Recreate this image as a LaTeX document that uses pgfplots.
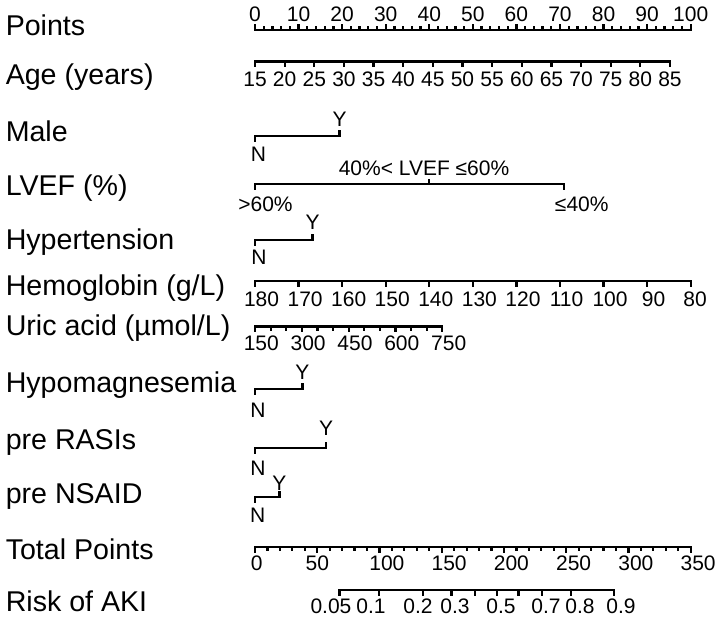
\documentclass[border=0pt]{standalone}
\usepackage{pgfplots}
\pgfplotsset{compat=1.18}
\usepackage{fontspec}
\setmainfont{Liberation Sans}
\newcommand\lab{\fontsize{14.3}{16}\selectfont}
\newcommand\tk{\fontsize{10.5}{12}\selectfont}
\tikzset{
  sc/.style={line width=1.1pt, line cap=rect, black},
  tl/.style={font=\tk, anchor=base, inner sep=0pt},
  ll/.style={font=\lab, anchor=base west, inner sep=0pt}
}
\begin{document}
\begin{tikzpicture}
\begin{axis}[hide axis, scale only axis, width=360pt, height=311.5pt,
  xmin=-58.53, xmax=106.73, ymin=0, ymax=623, y dir=reverse, clip=false]
\path (axis cs:-58.53,0) rectangle (axis cs:106.73,623);
% left labels
\node[ll] at (axis cs:-57.3,35.5) {Points};
\node[ll] at (axis cs:-57.3,84) {Age (years)};
\node[ll] at (axis cs:-57.3,141) {Male};
\node[ll] at (axis cs:-57.3,195) {LVEF (\%)};
\node[ll] at (axis cs:-57.3,249.5) {Hypertension};
\node[ll] at (axis cs:-57.3,295) {Hemoglobin (g/L)};
\node[ll] at (axis cs:-57.3,335) {Uric acid (µmol/L)};
\node[ll] at (axis cs:-57.3,392.5) {Hypomagnesemia};
\node[ll] at (axis cs:-57.3,449.5) {pre RASIs};
\node[ll] at (axis cs:-57.3,503.5) {pre NSAID};
\node[ll] at (axis cs:-57.3,559) {Total Points};
\node[ll] at (axis cs:-57.3,611) {Risk of AKI};
% Points
\addplot[sc] coordinates {(0,30) (100,30)};
\pgfplotsinvokeforeach{0,10,...,100}{\draw[sc] (axis cs:#1,30) -- (axis cs:#1,25.3); \node[tl] at (axis cs:#1,21) {#1};}
\pgfplotsinvokeforeach{2,4,6,8,12,14,16,18,22,24,26,28,32,34,36,38,42,44,46,48,52,54,56,58,62,64,66,68,72,74,76,78,82,84,86,88,92,94,96,98}{\draw[sc] (axis cs:#1,30) -- (axis cs:#1,27.4);}
% Age
\addplot[sc] coordinates {(0,61.5) (95.25,61.5)};
\pgfplotsinvokeforeach{15,20,...,85}{\draw[sc] (axis cs:{(#1-15)*1.36071},61.5) -- (axis cs:{(#1-15)*1.36071},66.2); \node[tl] at (axis cs:{(#1-15)*1.36071},86.5) {#1};}
% Male
\addplot[sc] coordinates {(0,140.5) (0,135.7) (19.4,135.7) (19.4,131)};
\node[tl] at (axis cs:0.8,161) {N};
\node[tl] at (axis cs:19.4,126.5) {Y};
% LVEF
\addplot[sc] coordinates {(0,189) (0,184.3) (70.9,184.3) (70.9,189)};
\draw[sc] (axis cs:39.9,184.3) -- (axis cs:39.9,179.6);
\node[tl] at (axis cs:2.4,211.5) {>60\%};
\node[tl] at (axis cs:38.8,175.8) {40\%< LVEF ≤60\%};
\node[tl] at (axis cs:75.0,211.5) {≤40\%};
% Hypertension
\addplot[sc] coordinates {(0,244.7) (0,240) (13.2,240) (13.2,235.3)};
\node[tl] at (axis cs:0.9,264) {N};
\node[tl] at (axis cs:13.2,229) {Y};
% Hemoglobin
\addplot[sc] coordinates {(0,281) (100,281)};
\pgfplotsinvokeforeach{90,100,...,180}{\draw[sc] (axis cs:{180-#1},281) -- (axis cs:{180-#1},285.7); \node[tl] at (axis cs:{181.5-#1},306.2) {#1};}
\draw[sc] (axis cs:100,281) -- (axis cs:100,285.7); \node[tl] at (axis cs:101,306.2) {80};
% Uric acid
\addplot[sc] coordinates {(0,326.5) (43,326.5)};
\pgfplotsinvokeforeach{150,300,450,600,750}{\draw[sc] (axis cs:{(#1-150)*0.071667},326.5) -- (axis cs:{(#1-150)*0.071667},331.2); \node[tl] at (axis cs:{(#1-150)*0.071667+1.45},350.5) {#1};}
\pgfplotsinvokeforeach{200,250,350,400,500,550,650,700}{\draw[sc] (axis cs:{(#1-150)*0.071667},326.5) -- (axis cs:{(#1-150)*0.071667},329.6);}
% Hypomagnesemia
\addplot[sc] coordinates {(0,393.7) (0,389) (10.9,389) (10.9,384.3)};
\node[tl] at (axis cs:0.7,417.5) {N};
\node[tl] at (axis cs:10.9,379.3) {Y};
% pre RASIs
\addplot[sc] coordinates {(0,452.7) (0,448) (16.3,448) (16.3,443.3)};
\node[tl] at (axis cs:0.7,475.5) {N};
\node[tl] at (axis cs:16.3,435.3) {Y};
% pre NSAID
\addplot[sc] coordinates {(0,501.7) (0,497) (5.6,497) (5.6,492.3)};
\node[tl] at (axis cs:0.6,522.5) {N};
\node[tl] at (axis cs:5.6,490.3) {Y};
% Total Points
\addplot[sc] coordinates {(0,547.3) (100,547.3)};
\pgfplotsinvokeforeach{0,50,...,350}{\draw[sc] (axis cs:{#1/3.5},547.3) -- (axis cs:{#1/3.5},552);}
\node[tl] at (axis cs:0.4,570.5) {0};
\node[tl] at (axis cs:14.29,570.5) {50};
\pgfplotsinvokeforeach{100,150,...,350}{\node[tl] at (axis cs:{#1/3.5+1.7},570.5) {#1};}
\pgfplotsinvokeforeach{10,20,30,40,60,70,80,90,110,120,130,140,160,170,180,190,210,220,230,240,260,270,280,290,310,320,330,340}{\draw[sc] (axis cs:{#1/3.5},547.3) -- (axis cs:{#1/3.5},550.1);}
% Risk of AKI
\addplot[sc] coordinates {(19.40,590) (82.43,590)};
\pgfplotsinvokeforeach{19.40,28.54,38.49,45.11,50.51,55.49,60.46,65.86,72.49,82.43}{\draw[sc] (axis cs:#1,590) -- (axis cs:#1,594.7);}
\node[tl] at (axis cs:17.44,613) {0.05};
\node[tl] at (axis cs:26.62,613) {0.1};
\node[tl] at (axis cs:37.41,613) {0.2};
\node[tl] at (axis cs:45.90,613) {0.3};
\node[tl] at (axis cs:56.46,613) {0.5};
\node[tl] at (axis cs:66.79,613) {0.7};
\node[tl] at (axis cs:74.59,613) {0.8};
\node[tl] at (axis cs:84.00,613) {0.9};
\end{axis}
\end{tikzpicture}
\end{document}
